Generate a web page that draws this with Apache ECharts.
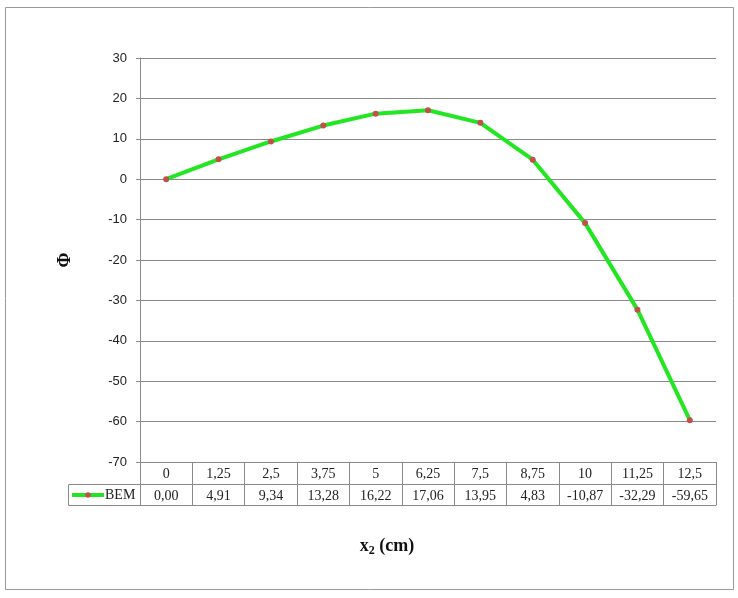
<!DOCTYPE html>
<html>
<head>
<meta charset="utf-8">
<script src="https://cdn.jsdelivr.net/npm/echarts@6/dist/echarts.min.js"></script>
<style>html,body{margin:0;padding:0;background:#fff}#c{width:738px;height:598px}</style>
</head>
<body>
<div id="c"></div>
<script>
var categories = ['0', '1,25', '2,5', '3,75', '5', '6,25', '7,5', '8,75', '10', '11,25', '12,5'];
var bemValues = [0.00, 4.91, 9.34, 13.28, 16.22, 17.06, 13.95, 4.83, -10.87, -32.29, -59.65];
var yTicks = { min: -70, max: 30, interval: 10 };
var seriesName = 'BEM';

function fmt(v) { return v.toFixed(2).replace('.', ','); }
var valueLabels = bemValues.map(fmt);

var GRID = { left: 140, right: 22, top: 58, bottom: 136, containLabel: false, outerBoundsMode: 'none' };
var ROW = 22;
var lineCol = '#8a8a8a';
var serif = '"Liberation Serif","DejaVu Serif",serif';

var chart = echarts.init(document.getElementById('c'));
chart.setOption({
  backgroundColor: '#fff',
  animation: false,
  title: {
    text: 'x{s|2} (cm)', left: 382, top: 530, textAlign: 'center',
    textStyle: {
      fontFamily: serif, fontSize: 18, fontWeight: 'bold', color: '#111',
      rich: { s: { fontFamily: serif, fontSize: 12, fontWeight: 'bold', color: '#111', padding: [10, 0, 0, 0] } }
    }
  },
  legend: {
    data: [seriesName], left: 70, top: 486, padding: [2, 0, 2, 0], itemWidth: 32, itemHeight: 7, itemGap: 0,
    lineStyle: { width: 4, color: '#22e622' },
    textStyle: { fontFamily: serif, fontSize: 14, color: '#222', padding: [0, 0, 0, -4] }
  },
  grid: GRID,
  xAxis: [
    {
      type: 'category', data: categories, position: 'bottom',
      axisLine: { show: true, onZero: false, lineStyle: { color: lineCol, width: 1 } },
      axisTick: { show: true, length: ROW * 2 - 1, interval: 0, lineStyle: { color: lineCol } },
      axisLabel: { margin: 5, interval: 0, fontFamily: serif, fontSize: 14, color: '#222' },
      splitLine: { show: false }
    },
    {
      type: 'category', data: valueLabels, position: 'bottom', offset: ROW,
      axisLine: { show: true, onZero: false, lineStyle: { color: lineCol, width: 1 } },
      axisTick: { show: false },
      axisLabel: { margin: 5, interval: 0, fontFamily: serif, fontSize: 14, color: '#222' }
    },
    {
      type: 'category', data: categories, position: 'bottom', offset: ROW * 2 - 1,
      axisLine: { show: true, onZero: false, lineStyle: { color: lineCol, width: 1 } },
      axisTick: { show: false }, axisLabel: { show: false }
    }
  ],
  yAxis: {
    type: 'value', min: yTicks.min, max: yTicks.max, interval: yTicks.interval,
    axisLine: { show: true, lineStyle: { color: lineCol, width: 1 } },
    axisTick: { show: true, length: 4, lineStyle: { color: lineCol } },
    axisLabel: { margin: 13, fontFamily: '"Liberation Sans","DejaVu Sans",sans-serif', fontSize: 13, color: '#222' },
    splitLine: { show: true, lineStyle: { color: lineCol, width: 1 } },
    name: '\u03A6', nameLocation: 'middle', nameGap: 66,
    nameTextStyle: { fontFamily: serif, fontSize: 18, fontWeight: 'bold', color: '#111' }
  },
  series: [{
    name: seriesName, type: 'line', data: bemValues,
    symbol: 'circle', symbolSize: 6, showSymbol: true,
    lineStyle: { color: '#22e622', width: 4 },
    itemStyle: { color: '#c0504d' },
    z: 3
  }],
  graphic: [
    { type: 'rect', shape: { x: 5.5, y: 7.5, width: 728, height: 582 }, style: { fill: 'none', stroke: '#999', lineWidth: 1 }, silent: true },
    { type: 'rect', shape: { x: 68.5, y: 598 - GRID.bottom + ROW + 0.5, width: GRID.left - 68, height: ROW - 1 }, style: { fill: 'none', stroke: lineCol, lineWidth: 1 }, silent: true }
  ]
});
</script>
</body>
</html>
